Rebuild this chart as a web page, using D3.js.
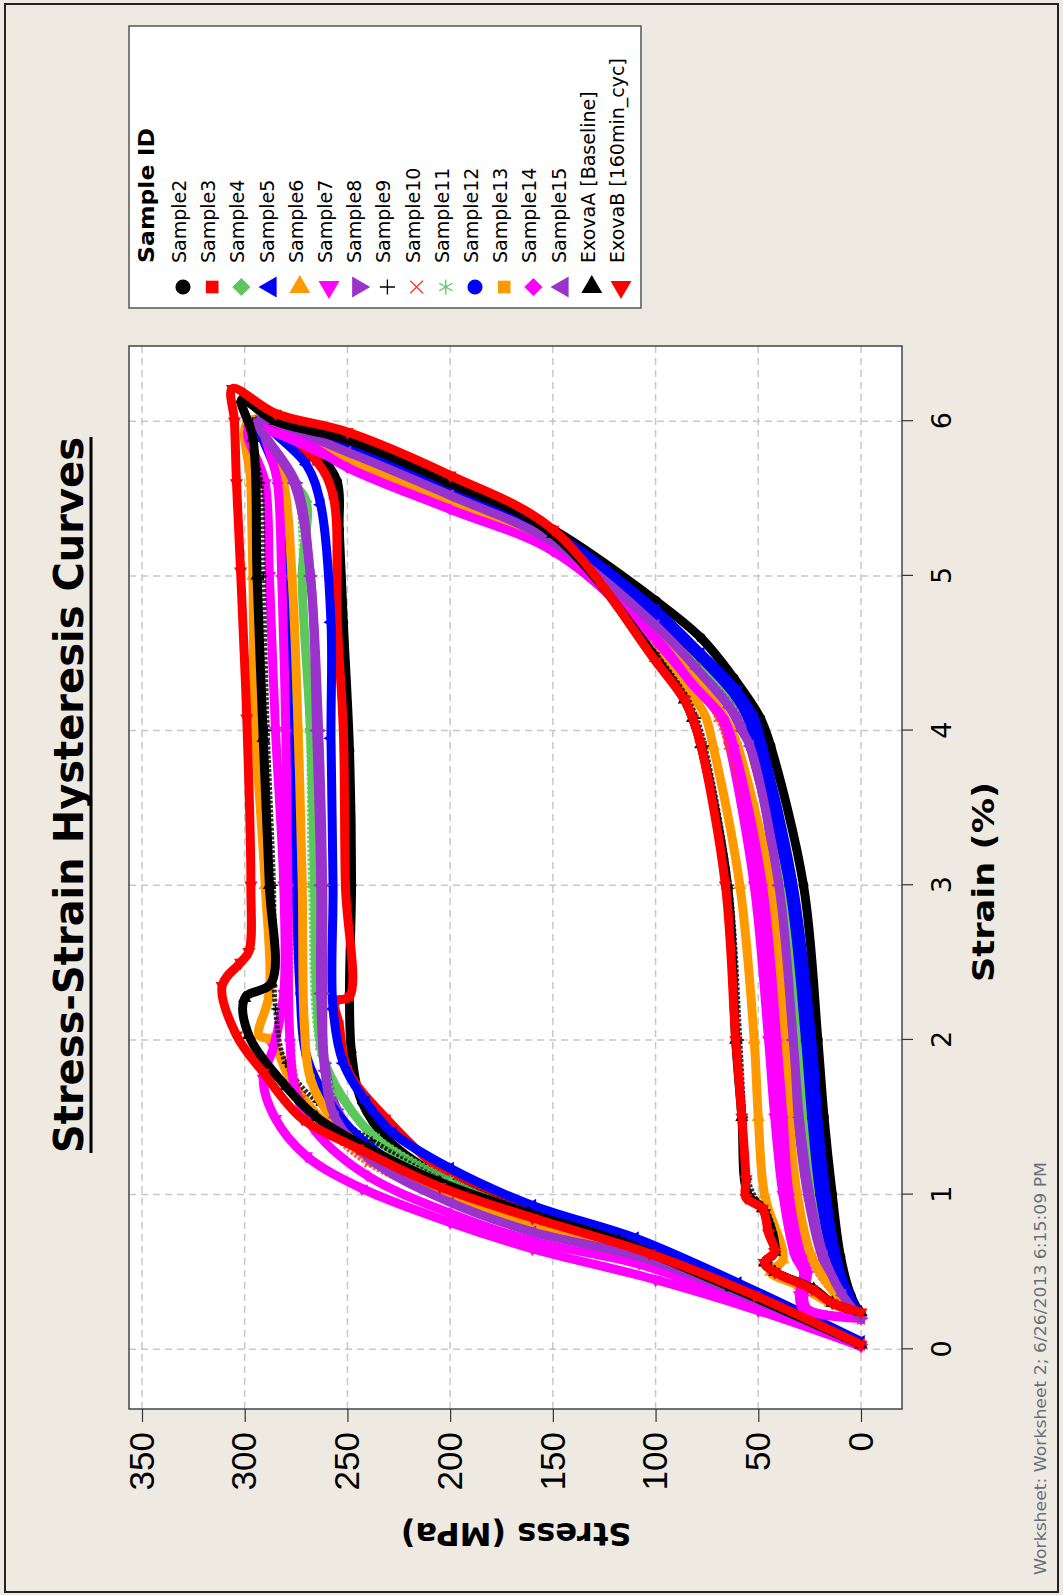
<!DOCTYPE html>
<html>
<head>
<meta charset="utf-8">
<script src="https://cdn.jsdelivr.net/npm/d3@7"></script>
<style>
  body { margin: 0; background: #efeae1; }
  svg { display: block; }
</style>
</head>
<body>
<svg id="chart" width="1063" height="1595"></svg>
<script>
// ---- data (strain %, stress MPa) ----
var strainTicks = [0, 1, 2, 3, 4, 5, 6];
var stressTicks = [0, 50, 100, 150, 200, 250, 300, 350];

var sampleIds = ["Sample2", "Sample3", "Sample4", "Sample5", "Sample6", "Sample7", "Sample8", "Sample9",
                 "Sample10", "Sample11", "Sample12", "Sample13", "Sample14", "Sample15",
                 "ExovaA [Baseline]", "ExovaB [160min_cyc]"];

// each loop: loading branch then unloading branch
var sample2 = [[0.03,0],[0.4,60],[0.7,115],[0.87,160],[1.08,200],[1.35,230],[1.6,243],[1.92,248],[2.3,249],[3.0,248],[3.87,249],[4.7,252],[5.3,254],[5.61,255],[5.8,265],[6.0,288],
               [5.9,250],[5.62,200],[5.3,150],[4.84,100],[4.6,78],[4.34,62],[4.08,49],[3.9,44],[3.0,28],[2.0,21],[1.5,18],[1.0,14],[0.6,10],[0.35,5],[0.22,0]];
var sample3 = [[0.03,0],[0.4,62],[0.7,118],[0.9,160],[1.12,200],[1.49,231],[1.81,250],[2.1,254],[2.25,256],[2.28,249],[3.0,251],[4.0,252],[4.7,255],[5.52,257],[5.74,265],[6.0,291],
               [5.86,250],[5.58,200],[5.26,150],[4.72,100],[4.45,78],[4.2,64],[4.08,58],[3.9,54],[3.0,38],[2.0,31],[1.5,28],[1.0,24],[0.6,17],[0.35,8],[0.22,0]];
var sample4 = [[0.03,0],[0.4,65],[0.65,115],[0.85,160],[1.08,200],[1.35,235],[1.62,252],[1.9,262],[2.3,265],[3.0,266],[4.0,268],[5.0,272],[5.48,270],[5.6,276],[6.0,294],
               [5.84,250],[5.56,200],[5.25,150],[4.72,100],[4.45,78],[4.2,63],[4.08,56],[3.9,52],[3.0,37],[2.0,30],[1.5,27],[1.0,22],[0.6,16],[0.35,8],[0.2,0]];
var sample5 = [[0.05,0],[0.43,60],[0.72,110],[0.93,160],[1.17,200],[1.4,228],[1.6,241],[1.85,252],[2.2,257],[3.0,257],[3.95,258],[4.7,258],[5.46,263],[5.72,270],[6.0,290],
               [5.86,250],[5.58,200],[5.28,150],[4.78,100],[4.5,78],[4.25,60],[4.08,52],[3.9,48],[3.0,33],[2.0,24],[1.5,21],[1.0,17],[0.6,12],[0.35,6],[0.22,0]];
var sample6 = [[0.03,0],[0.35,55],[0.6,105],[0.78,160],[0.97,200],[1.2,235],[1.45,260],[1.75,278],[2.0,287],[2.03,293],[2.3,288],[3.0,290],[4.08,295],[5.0,296],[5.6,297],[6.0,298],
               [5.8,250],[5.52,200],[5.2,150],[4.55,100],[4.28,85],[4.1,76],[3.9,72],[3.0,59],[2.0,52],[1.5,50],[1.0,47],[0.58,38],[0.5,44],[0.41,30],[0.3,15],[0.22,0]];
var sample7 = [[0.02,0],[0.25,50],[0.45,100],[0.65,160],[0.82,200],[1.04,243],[1.25,270],[1.49,285],[1.75,291],[1.95,286],[2.3,281],[3.0,281],[4.0,285],[5.0,288],[5.6,290],[5.95,298],
               [5.72,250],[5.45,200],[5.17,150],[4.58,100],[4.3,82],[4.08,68],[3.9,64],[3.0,52],[2.0,45],[1.5,42],[1.0,38],[0.6,32],[0.5,28],[0.35,30],[0.26,28],[0.2,0]];
var sample8 = [[0.03,0],[0.35,58],[0.62,110],[0.76,160],[0.97,200],[1.25,238],[1.55,255],[1.85,261],[2.3,262],[3.0,262],[4.0,264],[5.0,268],[5.6,275],[6.0,293],
               [5.8,250],[5.52,200],[5.22,150],[4.68,100],[4.4,80],[4.15,63],[4.0,57],[3.9,53],[3.0,41],[2.0,35],[1.5,31],[1.0,26],[0.6,19],[0.35,10],[0.2,0]];
var sample9 = [[0.03,0],[0.4,62],[0.7,115],[0.88,160],[1.1,200],[1.35,238],[1.6,265],[1.85,280],[2.2,285],[3.0,286],[4.0,289],[5.0,291],[5.6,292],[6.0,296],
               [5.85,250],[5.57,200],[5.25,150],[4.5,100],[4.22,85],[4.08,80],[3.9,76],[3.0,64],[2.0,59],[1.5,57],[1.1,55],[0.95,50],[0.9,46],[0.63,41],[0.56,45],[0.5,40],[0.39,23],[0.3,13],[0.24,0]];
var sample10 = [[0.03,0],[0.35,58],[0.62,110],[0.76,160],[0.96,200],[1.2,240],[1.45,262],[1.62,272],[1.95,277],[3.0,277],[4.0,279],[5.0,281],[5.6,284],[6.0,292],
                [5.78,250],[5.5,200],[5.2,150],[4.62,100],[4.35,82],[4.08,70],[3.9,65],[3.0,47],[2.0,40],[1.5,37],[1.0,33],[0.6,26],[0.35,13],[0.2,0]];
var sample11 = [[0.03,0],[0.4,63],[0.68,115],[0.87,160],[1.1,200],[1.38,236],[1.65,255],[1.95,264],[3.0,268],[4.0,269],[5.0,272],[5.6,276],[6.0,293],
                [5.82,250],[5.55,200],[5.24,150],[4.7,100],[4.43,78],[4.18,62],[4.08,56],[3.9,52],[3.0,39],[2.0,31],[1.5,28],[1.0,23],[0.6,17],[0.35,9],[0.2,0]];
var sample12 = [[0.04,0],[0.38,60],[0.64,110],[0.82,160],[1.02,200],[1.3,238],[1.58,258],[1.9,270],[2.3,273],[3.0,275],[4.0,277],[5.0,280],[5.6,283],[6.0,292],
                [5.84,250],[5.56,200],[5.26,150],[4.74,100],[4.47,78],[4.22,61],[4.08,55],[3.9,51],[3.0,35],[2.0,27],[1.5,24],[1.0,20],[0.6,14],[0.35,7],[0.21,0]];
var sample13 = [[0.03,0],[0.35,55],[0.62,108],[0.8,160],[1.0,200],[1.25,238],[1.5,258],[1.75,268],[2.1,271],[3.0,272],[4.0,274],[5.0,277],[5.6,281],[6.0,291],
                [5.75,250],[5.47,200],[5.18,150],[4.6,100],[4.33,80],[4.12,68],[4.0,63],[3.9,60],[3.0,44],[2.0,37],[1.5,35],[1.0,31],[0.6,24],[0.35,12],[0.2,0]];
var sample14 = [[0.02,0],[0.3,55],[0.55,108],[0.7,160],[0.88,200],[1.12,240],[1.4,265],[1.65,275],[2.0,278],[3.0,279],[4.0,280],[5.0,282],[5.6,284],[6.0,290],
                [5.7,250],[5.43,200],[5.16,150],[4.6,100],[4.3,82],[4.08,67],[3.9,62],[3.0,48],[2.0,41],[1.5,38],[1.0,35],[0.6,29],[0.5,26],[0.35,28],[0.26,26],[0.2,0]];
var sample15 = [[0.03,0],[0.35,57],[0.6,108],[0.76,160],[0.95,200],[1.22,238],[1.5,256],[1.8,261],[2.3,263],[3.0,263],[4.0,265],[5.0,268],[5.6,276],[6.0,293],
                [5.8,250],[5.52,200],[5.22,150],[4.68,100],[4.4,80],[4.15,64],[4.0,58],[3.9,54],[3.0,40],[2.0,33],[1.5,30],[1.0,25],[0.6,18],[0.35,9],[0.2,0]];
var exovaA = [[0.03,0],[0.4,63],[0.7,118],[0.88,162],[1.08,205],[1.3,240],[1.5,265],[1.7,280],[2.03,298],[2.27,300],[2.37,287],[3.0,288],[3.95,291],[5.0,294],[5.89,296],[6.14,301.5],
              [6.0,285],[5.88,250],[5.6,200],[5.27,150],[4.47,100],[4.2,86],[4.08,82],[3.91,78],[3.0,65],[2.0,61],[1.5,58],[1.0,55],[0.91,48],[0.63,42],[0.56,47],[0.5,42],[0.39,23],[0.3,14],[0.24,0]];
var exovaB = [[0.03,0],[0.35,52],[0.62,103],[0.85,160],[1.05,205],[1.3,245],[1.49,272],[1.79,291],[2.03,304],[2.35,311],[2.5,302],[2.57,298],[3.0,297],[4.08,299],[5.03,302],[5.6,304],[6.0,305],[6.21,306],
              [6.05,285],[5.93,250],[5.65,200],[5.3,150],[4.45,100],[4.2,86],[4.08,82],[3.91,78],[3.0,66],[2.0,61],[1.5,58],[1.1,56],[0.98,56],[0.91,48],[0.75,45],[0.63,42],[0.56,47],[0.5,42],[0.39,24],[0.3,14],[0.24,0]];

var seriesData = [sample2, sample3, sample4, sample5, sample6, sample7, sample8, sample9,
                  sample10, sample11, sample12, sample13, sample14, sample15, exovaA, exovaB];

// ---- styles ----
var colors = ["#000000", "#ff0000", "#5fc65f", "#0000ff", "#ff9900", "#ff00ff", "#9933cc", "#000000",
              "#ff3333", "#55cc55", "#0000ff", "#ff9900", "#ff00ff", "#9933cc", "#000000", "#ff0000"];
var shapes = ["circle", "square", "diamond", "triangle", "triangle", "triangle", "triangle", "plus",
              "times", "asterisk", "circle", "square", "diamond", "triangle", "triangle", "triangle"];
// chart is drawn landscape and turned -90deg, so these turns are in the landscape frame
var turns = [0, 0, 45, 0, 90, -90, 180, 0, 0, 0, 0, 0, 45, 0, 90, -90];

var plusType = {draw: function (ctx, size) {
    var r = Math.sqrt(size) / 2;
    ctx.moveTo(-r, 0); ctx.lineTo(r, 0); ctx.moveTo(0, -r); ctx.lineTo(0, r);
}};
var timesType = {draw: function (ctx, size) {
    var r = Math.sqrt(size) / 2.4;
    ctx.moveTo(-r, -r); ctx.lineTo(r, r); ctx.moveTo(-r, r); ctx.lineTo(r, -r);
}};
var starType = {draw: function (ctx, size) {
    var r = Math.sqrt(size) / 2;
    for (var k = 0; k < 3; k++) {
        var a = k * Math.PI / 3;
        ctx.moveTo(-r * Math.cos(a), -r * Math.sin(a)); ctx.lineTo(r * Math.cos(a), r * Math.sin(a));
    }
}};
function symType(s) {
    if (s == "circle") return d3.symbolCircle;
    if (s == "square" || s == "diamond") return d3.symbolSquare;
    if (s == "triangle") return d3.symbolTriangle;
    if (s == "plus") return plusType;
    if (s == "times") return timesType;
    return starType;
}
function isStroke(s) { return s == "plus" || s == "times" || s == "asterisk"; }

// ---- layout (landscape frame 1595 x 1063) ----
var W = 1595, H = 1063;
var plotLeft = 186, plotRight = 1249, plotTop = 129, plotBottom = 902;

var svg = d3.select("#chart");
svg.append("rect").attr("x", 0).attr("y", 0).attr("width", 1063).attr("height", 1595).attr("fill", "#efeae1");
svg.append("rect").attr("x", 5).attr("y", 4).attr("width", 1053).attr("height", 1588)
   .attr("fill", "none").attr("stroke", "#222").attr("stroke-width", 2);

var root = svg.append("g").attr("transform", "translate(0," + W + ") rotate(-90)");

var x = d3.scaleLinear().domain([0, 6]).range([245.7, 1173.8]);
var y = d3.scaleLinear().domain([0, 350]).range([861, 142]);

// plot background
root.append("rect").attr("x", plotLeft).attr("y", plotTop)
    .attr("width", plotRight - plotLeft).attr("height", plotBottom - plotTop).attr("fill", "#fff");

// gridlines
var grid = root.append("g").attr("stroke", "#c8c8c8").attr("stroke-width", 1.5).attr("stroke-dasharray", "7,5");
grid.selectAll("line.gx").data(strainTicks).enter().append("line")
    .attr("x1", function (d) { return x(d); }).attr("x2", function (d) { return x(d); })
    .attr("y1", plotTop).attr("y2", plotBottom);
grid.selectAll("line.gy").data(stressTicks).enter().append("line")
    .attr("y1", function (d) { return y(d); }).attr("y2", function (d) { return y(d); })
    .attr("x1", plotLeft).attr("x2", plotRight);

// loops
var line = d3.line()
    .x(function (d) { return x(d[0]); })
    .y(function (d) { return y(d[1]); })
    .curve(d3.curveCatmullRom.alpha(0.5));

var loops = root.append("g");
for (var i = 0; i < seriesData.length; i++) {
    var thin = isStroke(shapes[i]);
    var g = loops.append("g");
    g.append("path").datum(seriesData[i])
        .attr("d", line)
        .attr("fill", "none")
        .attr("stroke", colors[i])
        .attr("stroke-width", thin ? 5 : 9)
        .attr("stroke-opacity", thin ? 0.8 : 1)
        .attr("stroke-dasharray", thin ? "3,1.5" : null)
        .attr("stroke-linejoin", "round");
    var sym = d3.symbol().type(symType(shapes[i])).size(thin ? 70 : 75);
    g.selectAll("path.pt").data(seriesData[i]).enter().append("path")
        .attr("class", "pt")
        .attr("d", sym)
        .attr("transform", function (d) { return "translate(" + x(d[0]) + "," + y(d[1]) + ") rotate(" + turns[i] + ")"; })
        .attr("fill", thin ? "none" : colors[i])
        .attr("stroke", thin ? colors[i] : "none")
        .attr("stroke-width", 1.5);
}

// frame
root.append("rect").attr("x", plotLeft).attr("y", plotTop)
    .attr("width", plotRight - plotLeft).attr("height", plotBottom - plotTop)
    .attr("fill", "none").attr("stroke", "#444").attr("stroke-width", 1.5);

// axes
var xAxis = d3.axisBottom(x).tickValues(strainTicks).tickSize(11).tickPadding(19).tickFormat(d3.format("d"));
var gx = root.append("g").attr("transform", "translate(0," + plotBottom + ")").call(xAxis);
gx.select(".domain").remove();
gx.selectAll(".tick line").attr("stroke", "#333").attr("stroke-width", 1.2);
gx.selectAll(".tick text").attr("font-family", "'DejaVu Sans', sans-serif").attr("font-size", 27).attr("fill", "#000");

var yAxis = d3.axisLeft(y).tickValues(stressTicks).tickSize(13).tickPadding(10);
var gy = root.append("g").attr("transform", "translate(" + plotLeft + ",0)").call(yAxis);
gy.select(".domain").remove();
gy.selectAll(".tick line").attr("stroke", "#333").attr("stroke-width", 1.2);
gy.selectAll(".tick text").attr("font-family", "'Liberation Sans', Arial, sans-serif").attr("font-size", 35).attr("fill", "#000");

// axis titles
root.append("text").attr("x", 713).attr("y", 994).attr("text-anchor", "middle")
    .attr("font-family", "'DejaVu Sans', sans-serif").attr("font-weight", "bold").attr("font-size", 30)
    .attr("textLength", 200).attr("lengthAdjust", "spacingAndGlyphs")
    .text("Strain (%)");
root.append("text").attr("transform", "translate(72,516) rotate(-90)").attr("text-anchor", "middle")
    .attr("font-family", "'DejaVu Sans', sans-serif").attr("font-weight", "bold").attr("font-size", 32)
    .text("Stress (MPa)");

// title
var title = root.append("text").attr("x", 800).attr("y", 83).attr("text-anchor", "middle")
    .attr("font-family", "'DejaVu Sans', sans-serif").attr("font-weight", "bold").attr("font-size", 40)
    .text("Stress-Strain Hysteresis Curves");
var tb = title.node().getBBox();
root.append("line").attr("x1", tb.x).attr("x2", tb.x + tb.width).attr("y1", 91).attr("y2", 91)
    .attr("stroke", "#000").attr("stroke-width", 3);

// legend
var lg = root.append("g");
lg.append("rect").attr("x", 1287).attr("y", 129).attr("width", 282).attr("height", 512)
  .attr("fill", "#fff").attr("stroke", "#555").attr("stroke-width", 1.5);
lg.append("text").attr("x", 1332).attr("y", 154)
  .attr("font-family", "'DejaVu Sans', sans-serif").attr("font-weight", "bold").attr("font-size", 21)
  .attr("textLength", 135).attr("lengthAdjust", "spacingAndGlyphs")
  .text("Sample ID");
var item = lg.selectAll("g.item").data(sampleIds).enter().append("g")
  .attr("transform", function (d, k) { return "translate(0," + (183 + 29.2 * k) + ")"; });
item.append("path")
  .attr("d", function (d, k) {
      var s = shapes[k];
      var size = s == "circle" ? 180 : s == "square" ? 160 : s == "diamond" ? 165 : s == "triangle" ? 190 : 230;
      return d3.symbol().type(symType(s)).size(size)();
  })
  .attr("transform", function (d, k) { return "translate(1308,0) rotate(" + turns[k] + ")"; })
  .attr("fill", function (d, k) { return isStroke(shapes[k]) ? "none" : colors[k]; })
  .attr("stroke", function (d, k) { return isStroke(shapes[k]) ? colors[k] : "none"; })
  .attr("stroke-width", 1.3);
item.append("text").attr("x", 1332).attr("y", 3)
  .attr("font-family", "'DejaVu Sans', sans-serif").attr("font-size", 19)
  .text(function (d) { return d; });

// footer
root.append("text").attr("x", 20).attr("y", 1046)
  .attr("font-family", "'DejaVu Sans', sans-serif").attr("font-size", 15).attr("fill", "#66707c")
  .attr("textLength", 413).attr("lengthAdjust", "spacingAndGlyphs")
  .text("Worksheet: Worksheet 2; 6/26/2013 6:15:09 PM");
</script>
</body>
</html>
